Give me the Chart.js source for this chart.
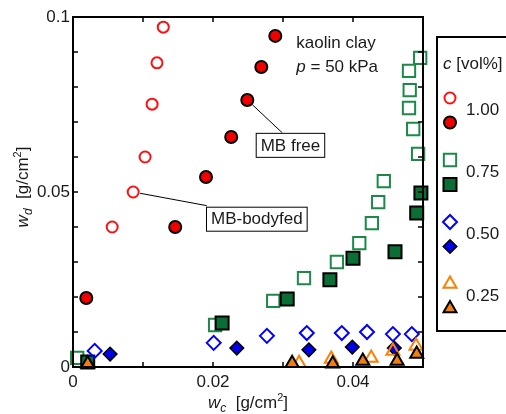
<!DOCTYPE html>
<html>
<head>
<meta charset="utf-8">
<script src="https://cdn.jsdelivr.net/npm/chart.js@4.4.0/dist/chart.umd.min.js"></script>
<style>
  html, body { margin: 0; padding: 0; background: #fff; }
</style>
</head>
<body>
<canvas id="chart" width="506" height="414"></canvas>
<script>
// [w_c, w_d] in g/cm2
const bodyfed100 = [[0.0056, 0.0400], [0.0086, 0.0500], [0.0103, 0.0600], [0.0113, 0.0751], [0.0120, 0.0869], [0.0129, 0.0971]];
const free100 = [[0.0019, 0.0197], [0.0146, 0.0400], [0.0190, 0.0543], [0.0226, 0.0657], [0.0249, 0.0763], [0.0269, 0.0857], [0.0289, 0.0946]];
const bodyfed075 = [[0.0006, 0.0026], [0.0203, 0.0120], [0.0286, 0.0189], [0.0330, 0.0254], [0.0377, 0.0300], [0.0409, 0.0354],
  [0.0427, 0.0411], [0.0436, 0.0471], [0.0444, 0.0531], [0.0493, 0.0609], [0.0486, 0.0680], [0.0480, 0.0740],
  [0.0481, 0.0791], [0.0480, 0.0846], [0.0496, 0.0883]];
const free075 = [[0.0021, 0.0014], [0.0213, 0.0126], [0.0306, 0.0194], [0.0367, 0.0249], [0.0400, 0.0311], [0.0460, 0.0329], [0.0491, 0.0440], [0.0497, 0.0497]];
const bodyfed050 = [[0.0031, 0.0046], [0.0201, 0.0069], [0.0277, 0.0089], [0.0334, 0.0097], [0.0384, 0.0097], [0.0420, 0.0100], [0.0457, 0.0094], [0.0484, 0.0094]];
const free050 = [[0.0053, 0.0037], [0.0234, 0.0054], [0.0337, 0.0049], [0.0399, 0.0057], [0.0459, 0.0054]];
const bodyfed025 = [[0.0323, 0.0011], [0.0369, 0.0023], [0.0426, 0.0026], [0.0457, 0.0046], [0.0490, 0.0060]];
const free025 = [[0.0021, 0.0009], [0.0313, 0.0011], [0.0371, 0.0009], [0.0414, 0.0017], [0.0463, 0.0017], [0.0491, 0.0037]];

const concLabels = ['1.00', '0.75', '0.50', '0.25'];
const yLabelTicks = [0, 0.05, 0.1];
const xLabelTicks = [0, 0.02, 0.04];

const FONT = "'Liberation Sans', Arial, sans-serif";
const INK = '#1a1a1a';
const NONE = 'rgba(0,0,0,0)';

function toPts(arr) {
  return arr.map(p => ({ x: p[0], y: p[1] }));
}

function series(label, arr, style, radius, fill, border, bw) {
  return {
    label: label,
    data: toPts(arr),
    pointStyle: style,
    pointRadius: radius,
    pointHoverRadius: radius,
    pointBackgroundColor: fill,
    pointBorderColor: border,
    pointBorderWidth: bw,
    pointHoverBorderWidth: bw,
    showLine: false,
    clip: false
  };
}

const datasets = [
  series('1.00 bodyfed', bodyfed100, 'circle', 5.5, NONE, '#ff1010', 2),
  series('1.00 free', free100, 'circle', 6, '#f20000', '#000', 2),
  series('0.75 bodyfed', bodyfed075, 'rect', 8.7, NONE, '#1b8a48', 2),
  series('0.75 free', free075, 'rect', 9.2, '#0b6e35', '#000', 2),
  series('0.50 bodyfed', bodyfed050, 'rectRot', 7, NONE, '#0000ff', 2),
  series('0.50 free', free050, 'rectRot', 6.8, '#0000e6', '#000', 1.5),
  series('0.25 bodyfed', bodyfed025, 'triangle', 7.5, NONE, '#ff8000', 2),
  series('0.25 free', free025, 'triangle', 7.5, '#f07f10', '#000', 2)
];
// later series are painted on top
datasets.forEach((d, i) => { d.order = -i; });

function near(v, list) {
  return list.some(t => Math.abs(v - t) < 1e-6);
}

// draws a run of text pieces (italic, sub/superscript) starting at x
function richWidth(ctx, parts) {
  let w = 0;
  parts.forEach(p => { ctx.font = p.font; w += ctx.measureText(p.t).width; });
  return w;
}
function drawRich(ctx, parts, x, y) {
  ctx.textBaseline = 'alphabetic';
  ctx.textAlign = 'left';
  parts.forEach(p => {
    ctx.font = p.font;
    ctx.fillText(p.t, x, y + (p.dy || 0));
    x += ctx.measureText(p.t).width;
  });
}

function labelBox(ctx, text, x, y) {
  ctx.font = '17px ' + FONT;
  const w = ctx.measureText(text).width + 9;
  ctx.fillStyle = '#fff';
  ctx.fillRect(x, y, w, 24);
  ctx.strokeStyle = '#000';
  ctx.lineWidth = 1;
  ctx.strokeRect(x + 0.5, y + 0.5, w, 24);
  ctx.fillStyle = INK;
  ctx.textAlign = 'left';
  ctx.textBaseline = 'middle';
  ctx.fillText(text, x + 5, y + 13);
}

function leader(ctx, x0, y0, x1, y1, r) {
  const len = Math.hypot(x1 - x0, y1 - y0);
  const sx = x0 + (x1 - x0) / len * r, sy = y0 + (y1 - y0) / len * r;
  ctx.beginPath();
  ctx.moveTo(sx, sy);
  ctx.lineTo(x1, y1);
  ctx.strokeStyle = '#000';
  ctx.lineWidth = 1;
  ctx.stroke();
}

const decor = {
  id: 'decor',
  afterDraw(chart) {
    const ctx = chart.ctx;
    const a = chart.chartArea;
    const xs = chart.scales.x, ys = chart.scales.y;
    ctx.save();

    // frame
    ctx.strokeStyle = '#000';
    ctx.lineWidth = 2;
    ctx.strokeRect(a.left, a.top, a.right - a.left, a.bottom - a.top);

    // inward ticks on all four sides
    ctx.lineWidth = 1.5;
    ctx.beginPath();
    xs.ticks.forEach(t => {
      const px = xs.getPixelForValue(t.value);
      ctx.moveTo(px, a.bottom); ctx.lineTo(px, a.bottom - 5);
      ctx.moveTo(px, a.top); ctx.lineTo(px, a.top + 5);
    });
    ys.ticks.forEach(t => {
      const py = ys.getPixelForValue(t.value);
      ctx.moveTo(a.left, py); ctx.lineTo(a.left + 5, py);
      ctx.moveTo(a.right, py); ctx.lineTo(a.right - 5, py);
    });
    ctx.stroke();

    // leader lines and label boxes
    const p1 = free100[4], p2 = bodyfed100[1];
    leader(ctx, xs.getPixelForValue(p1[0]), ys.getPixelForValue(p1[1]), xs.getPixelForValue(0.0299), ys.getPixelForValue(0.0669), 7);
    leader(ctx, xs.getPixelForValue(p2[0]), ys.getPixelForValue(p2[1]), xs.getPixelForValue(0.0191), ys.getPixelForValue(0.0461), 7);
    labelBox(ctx, 'MB free', xs.getPixelForValue(0.0261), ys.getPixelForValue(0.0669));
    labelBox(ctx, 'MB-bodyfed', xs.getPixelForValue(0.0190), ys.getPixelForValue(0.0458));

    // condition text
    ctx.fillStyle = INK;
    const tx = xs.getPixelForValue(0.0319);
    drawRich(ctx, [{ t: 'kaolin clay', font: '17px ' + FONT }], tx, ys.getPixelForValue(0.0911));
    drawRich(ctx, [{ t: 'p', font: 'italic 17px ' + FONT }, { t: ' = 50 kPa', font: '17px ' + FONT }], tx, ys.getPixelForValue(0.0843));

    // axis titles
    const xt = [
      { t: 'w', font: 'italic 17px ' + FONT },
      { t: 'c', font: 'italic 12px ' + FONT, dy: 4 },
      { t: '  [g/cm', font: '17px ' + FONT },
      { t: '2', font: '11px ' + FONT, dy: -7 },
      { t: ']', font: '17px ' + FONT }
    ];
    drawRich(ctx, xt, (a.left + a.right) / 2 - richWidth(ctx, xt) / 2, 408);

    const yt = [
      { t: 'w', font: 'italic 17px ' + FONT },
      { t: 'd', font: 'italic 12px ' + FONT, dy: 4 },
      { t: '  [g/cm', font: '17px ' + FONT },
      { t: '2', font: '11px ' + FONT, dy: -7 },
      { t: ']', font: '17px ' + FONT }
    ];
    ctx.save();
    ctx.translate(28, 187);
    ctx.rotate(-Math.PI / 2);
    drawRich(ctx, yt, -richWidth(ctx, yt) / 2, 0);
    ctx.restore();

    // legend box
    ctx.strokeStyle = '#000';
    ctx.lineWidth = 2;
    ctx.strokeRect(437, 37, 100, 294);
    ctx.fillStyle = INK;
    drawRich(ctx, [{ t: 'c', font: 'italic 17px ' + FONT }, { t: ' [vol%]', font: '17px ' + FONT }], 443, 69);
    concLabels.forEach((lab, i) => {
      const yOpen = 98 + i * 62;
      [0, 1].forEach(k => {
        const ds = datasets[i * 2 + k];
        ctx.fillStyle = ds.pointBackgroundColor;
        ctx.strokeStyle = ds.pointBorderColor;
        ctx.lineWidth = ds.pointBorderWidth;
        Chart.helpers.drawPoint(ctx, {
          pointStyle: ds.pointStyle,
          radius: ds.pointRadius,
          rotation: 0,
          borderWidth: ds.pointBorderWidth
        }, 450, yOpen + k * 24.5);
      });
      ctx.fillStyle = INK;
      ctx.font = '17px ' + FONT;
      ctx.textAlign = 'left';
      ctx.textBaseline = 'middle';
      ctx.fillText(lab, 466, yOpen + 12);
    });

    ctx.restore();
  }
};

new Chart(document.getElementById('chart'), {
  type: 'scatter',
  data: { datasets: datasets },
  options: {
    responsive: false,
    animation: false,
    devicePixelRatio: 1,
    layout: { padding: { top: 17, right: 83, left: 0, bottom: 0 } },
    plugins: {
      legend: { display: false },
      tooltip: { enabled: false }
    },
    scales: {
      x: {
        type: 'linear',
        min: 0,
        max: 0.05,
        grid: { display: false, drawTicks: false },
        border: { display: false },
        afterFit: s => { s.height = 47; },
        ticks: {
          stepSize: 0.01,
          autoSkip: false,
          maxRotation: 0,
          padding: 5,
          color: INK,
          font: { family: FONT, size: 17 },
          callback: v => near(v, xLabelTicks) ? String(Math.round(v * 100) / 100) : ''
        }
      },
      y: {
        type: 'linear',
        min: 0,
        max: 0.1,
        grid: { display: false, drawTicks: false },
        border: { display: false },
        afterFit: s => { s.width = 73; },
        ticks: {
          stepSize: 0.01,
          autoSkip: false,
          padding: 3,
          color: INK,
          font: { family: FONT, size: 17 },
          callback: v => near(v, yLabelTicks) ? String(Math.round(v * 100) / 100) : ''
        }
      }
    }
  },
  plugins: [decor]
});
</script>
</body>
</html>
